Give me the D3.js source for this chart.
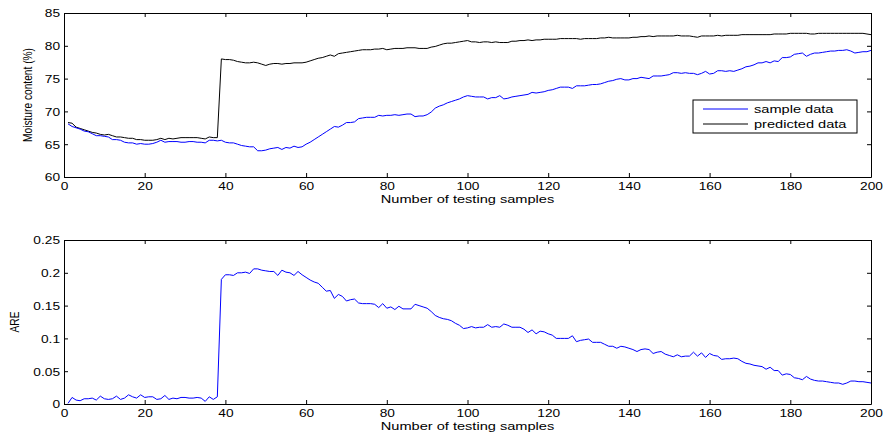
<!DOCTYPE html>
<html>
<head>
<meta charset="utf-8">
<script src="https://cdn.jsdelivr.net/npm/d3@7"></script>
<style>
body{margin:0;background:#fff;}
svg{display:block;font-family:"Liberation Sans",Arial,sans-serif;}
</style>
</head>
<body>
<svg id="chart" width="883" height="437"></svg>
<script>
// values, sample number 1..200
var predicted = [
 68.3,68.2,67.6,67.4,67.2,67.0,66.8,66.7,66.5,66.4,
 66.5,66.3,66.1,66.1,66.0,65.9,65.9,65.7,65.7,65.6,
 65.6,65.6,65.7,65.9,65.7,65.9,65.8,65.9,66.0,66.0,
 66.0,66.0,66.0,65.9,65.8,66.1,66.0,66.0,78.0,77.9,
 77.9,77.8,77.6,77.5,77.4,77.4,77.5,77.4,77.2,77.0,
 77.2,77.3,77.3,77.2,77.3,77.3,77.4,77.4,77.4,77.5,
 77.7,77.9,78.1,78.2,78.4,78.6,78.4,78.8,78.9,79.0,
 79.1,79.2,79.3,79.4,79.4,79.4,79.5,79.5,79.6,79.4,
 79.5,79.6,79.6,79.6,79.7,79.7,79.7,79.6,79.6,79.6,
 79.8,79.9,80.1,80.3,80.4,80.4,80.5,80.6,80.7,80.8,
 80.6,80.6,80.5,80.6,80.6,80.5,80.6,80.5,80.5,80.5,
 80.7,80.7,80.8,80.8,80.9,80.8,80.9,80.9,81.0,81.0,
 81.0,81.0,81.1,81.1,81.1,81.1,81.1,81.0,81.1,81.1,
 81.1,81.1,81.2,81.2,81.3,81.2,81.2,81.2,81.2,81.2,
 81.3,81.3,81.4,81.4,81.5,81.4,81.5,81.5,81.5,81.5,
 81.5,81.6,81.5,81.5,81.5,81.4,81.3,81.5,81.5,81.5,
 81.5,81.6,81.5,81.6,81.6,81.6,81.6,81.7,81.7,81.7,
 81.7,81.7,81.7,81.7,81.7,81.8,81.8,81.8,81.8,81.9,
 81.9,81.9,81.9,81.9,81.8,81.8,81.9,81.9,81.9,81.9,
 81.9,81.9,81.9,81.9,81.9,81.9,81.9,81.9,81.8,81.7
];

var sample = [
 68.1,67.7,67.5,67.3,67.0,66.9,66.6,66.3,66.3,66.2,
 66.1,65.7,65.7,65.6,65.3,65.2,65.2,65.0,65.1,65.0,
 65.0,65.1,65.3,65.6,65.3,65.4,65.4,65.4,65.3,65.3,
 65.4,65.4,65.3,65.3,65.2,65.6,65.6,65.5,65.6,65.3,
 65.2,65.2,65.0,64.8,64.7,64.6,64.6,64.0,64.0,64.1,
 64.3,64.4,64.5,64.2,64.5,64.4,64.7,64.5,64.6,65.0,
 65.3,65.7,66.1,66.5,66.9,67.3,67.7,67.6,67.9,68.3,
 68.3,68.4,68.9,69.0,69.1,69.1,69.1,69.4,69.3,69.4,
 69.4,69.5,69.4,69.5,69.6,69.6,69.2,69.3,69.3,69.5,
 69.9,70.5,70.8,71.0,71.3,71.5,71.7,71.9,72.2,72.4,
 72.3,72.2,72.2,72.2,71.9,72.1,72.1,72.4,71.9,72.0,
 72.2,72.3,72.4,72.5,72.6,72.9,72.8,72.9,73.0,73.2,
 73.3,73.5,73.7,73.7,73.7,73.5,73.9,73.9,73.9,74.0,
 74.1,74.1,74.2,74.4,74.6,74.7,74.9,75.0,74.8,74.8,
 75.0,75.0,75.2,75.1,75.0,75.4,75.4,75.4,75.5,75.6,
 75.9,75.9,75.8,75.9,75.8,75.8,75.6,75.8,76.1,75.7,
 75.8,76.2,76.2,76.1,76.2,76.1,76.3,76.5,76.8,76.9,
 77.1,77.4,77.4,77.6,77.4,77.7,77.6,78.2,78.2,78.3,
 78.7,78.8,78.9,78.4,78.7,78.9,78.9,79.0,79.1,79.2,
 79.2,79.3,79.3,79.4,79.2,78.9,79.0,79.1,79.1,79.3
];

var are = [
 0.001,0.010,0.006,0.005,0.008,0.008,0.009,0.006,0.012,0.008,
 0.007,0.008,0.012,0.007,0.009,0.014,0.011,0.009,0.014,0.010,
 0.011,0.011,0.007,0.008,0.013,0.007,0.009,0.008,0.010,0.010,
 0.009,0.009,0.010,0.009,0.004,0.011,0.007,0.011,0.190,0.197,
 0.197,0.196,0.200,0.200,0.201,0.199,0.206,0.206,0.204,0.203,
 0.202,0.202,0.196,0.204,0.201,0.200,0.196,0.202,0.197,0.193,
 0.189,0.186,0.184,0.178,0.172,0.173,0.161,0.167,0.164,0.157,
 0.159,0.160,0.154,0.153,0.153,0.153,0.152,0.147,0.153,0.146,
 0.148,0.144,0.149,0.145,0.145,0.145,0.152,0.150,0.148,0.146,
 0.141,0.135,0.132,0.130,0.129,0.127,0.123,0.120,0.115,0.116,
 0.118,0.116,0.117,0.117,0.121,0.117,0.118,0.117,0.122,0.120,
 0.117,0.117,0.117,0.114,0.109,0.113,0.107,0.111,0.110,0.107,
 0.105,0.100,0.100,0.100,0.100,0.104,0.095,0.097,0.098,0.099,
 0.094,0.094,0.094,0.091,0.088,0.088,0.085,0.088,0.087,0.085,
 0.083,0.080,0.083,0.084,0.083,0.077,0.079,0.080,0.076,0.074,
 0.072,0.075,0.072,0.073,0.073,0.079,0.073,0.078,0.071,0.077,
 0.074,0.073,0.068,0.069,0.069,0.070,0.069,0.065,0.062,0.061,
 0.059,0.058,0.057,0.053,0.056,0.051,0.051,0.044,0.046,0.045,
 0.040,0.039,0.037,0.042,0.038,0.036,0.035,0.035,0.034,0.033,
 0.032,0.032,0.030,0.032,0.035,0.035,0.034,0.034,0.033,0.032
];

var xTicks = [0,20,40,60,80,100,120,140,160,180,200];
var moistTicks = [60,65,70,75,80,85];
var areTicks = [0,0.05,0.1,0.15,0.2,0.25];
var legendNames = ["sample data","predicted data"];

const sx = 1.27; // the picture is stretched sideways
const left = 64, right = 871;
const svg = d3.select('#chart');

const x = d3.scaleLinear()
    .domain([0,200])
    .range([left,right]);

function panel(top, bottom, domain, ticks, fmt, yName, yNameX, series){
    const y = d3.scaleLinear().domain(domain).range([bottom,top]);
    const g = svg.append('g');

    series.forEach(function(s){
        g.append('path')
            .datum(s.values)
            .attr('fill','none')
            .attr('stroke', s.color)
            .attr('stroke-width', 1)
            .attr('d', d3.line()
                .x(function(d,i){ return x(i+1); })
                .y(function(d){ return y(d); }));
    });

    // bottom axis with labels
    const xb = g.append('g')
        .attr('transform','translate(0,'+bottom+')')
        .call(d3.axisBottom(x).tickValues(xTicks).tickSize(-4).tickSizeOuter(0));
    xb.selectAll('text')
        .attr('y',null).attr('dy',null)
        .attr('transform','translate(0,13) scale('+sx+',1)')
        .style('font-size','10.8px');

    // top / right mirrored ticks
    g.append('g')
        .attr('transform','translate(0,'+top+')')
        .call(d3.axisTop(x).tickValues(xTicks).tickSize(-4).tickSizeOuter(0).tickFormat(''));
    g.append('g')
        .attr('transform','translate('+right+',0)')
        .call(d3.axisRight(y).tickValues(ticks).tickSize(-4).tickSizeOuter(0).tickFormat(''));

    const yl = g.append('g')
        .attr('transform','translate('+left+',0)')
        .call(d3.axisLeft(y).tickValues(ticks).tickSize(-4).tickSizeOuter(0).tickFormat(fmt));
    yl.selectAll('text')
        .attr('x',null)
        .attr('dy','0.36em')
        .attr('transform','translate(-4,0) scale('+sx+',1)')
        .style('font-size','10.8px');

    g.selectAll('.domain').attr('stroke','#000');
    g.selectAll('.tick line').attr('stroke','#000');

    g.append('text')
        .attr('transform','translate('+((left+right)/2)+','+(bottom+26)+') scale('+sx+',1)')
        .attr('text-anchor','middle')
        .style('font-size','11.5px')
        .text('Number of testing samples');

    g.append('text')
        .attr('transform','translate('+yNameX+','+((top+bottom)/2)+') scale('+sx+',1) rotate(-90)')
        .attr('text-anchor','middle')
        .attr('dy','0.35em')
        .style('font-size','10.2px')
        .text(yName);

    return {g:g, y:y};
}

const p1 = panel(13, 177, [60,85], moistTicks, d3.format('d'), 'Moisture content (%)', 27, [
    {values: predicted, color:'#000000'},
    {values: sample, color:'#0000ff'}
]);

panel(240, 404, [0,0.25], areTicks, function(d){ return d3.format('')(+d.toFixed(2)); }, 'ARE', 14, [
    {values: are, color:'#0000ff'}
]);

// legend
const leg = p1.g.append('g');
leg.append('rect')
    .attr('x',693).attr('y',100)
    .attr('width',164).attr('height',33)
    .attr('fill','#fff').attr('stroke','#000').attr('stroke-width',1);
leg.selectAll('line.lg')
    .data(legendNames)
    .enter().append('line')
    .attr('class','lg')
    .attr('x1',703).attr('x2',748)
    .attr('y1',function(d,i){ return 109 + i*15; })
    .attr('y2',function(d,i){ return 109 + i*15; })
    .attr('stroke',function(d,i){ return i==0 ? '#0000ff' : '#000'; });
leg.selectAll('text.lg')
    .data(legendNames)
    .enter().append('text')
    .attr('class','lg')
    .attr('transform',function(d,i){ return 'translate(754,'+(109+i*15)+') scale('+sx+',1)'; })
    .attr('dy','0.35em')
    .style('font-size','11.5px')
    .text(function(d){ return d; });
</script>
</body>
</html>
